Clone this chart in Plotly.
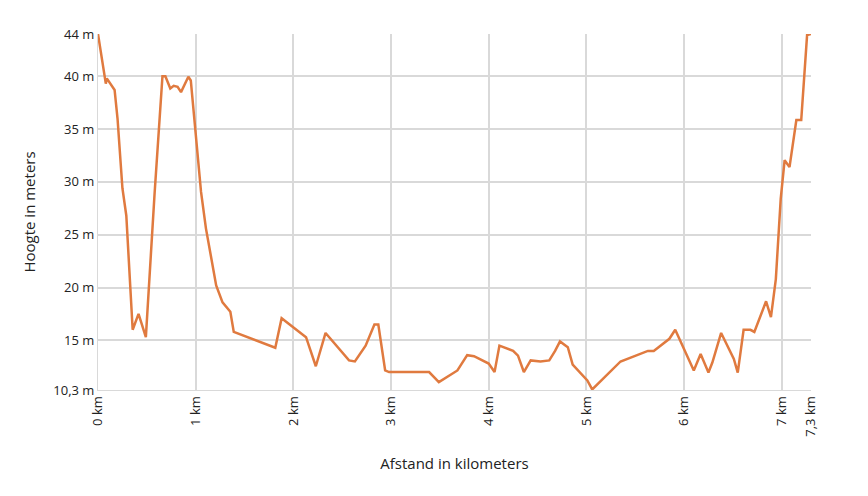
import plotly.graph_objects as go

dist_km = [0, 0.065, 0.08, 0.09, 0.17, 0.2, 0.25, 0.29, 0.355, 0.415, 0.49, 0.58, 0.63, 0.66, 0.69, 0.74, 0.775, 0.815, 0.85, 0.925, 0.95,
           1.055, 1.105, 1.21, 1.275, 1.355, 1.39, 1.815, 1.88, 2.13, 2.23, 2.33, 2.57, 2.63, 2.74, 2.83, 2.87, 2.94, 2.98, 3.39, 3.49,
           3.68, 3.78, 3.85, 4.0, 4.06, 4.11, 4.21, 4.25, 4.30, 4.36, 4.43, 4.53, 4.62, 4.68, 4.73, 4.81, 4.86, 5.01, 5.06,
           5.35, 5.63, 5.69, 5.85, 5.91, 6.10, 6.17, 6.25, 6.29, 6.38, 6.51, 6.55, 6.61, 6.68, 6.72, 6.84, 6.89, 6.94, 6.99,
           7.03, 7.08, 7.15, 7.20, 7.26, 7.3]
height_m = [44, 39.8, 39.3, 39.8, 38.7, 36.0, 29.4, 26.8, 16.0, 17.5, 15.3, 29.0, 36.0, 40.0, 40.0, 38.85, 39.1, 39.0, 38.5, 39.95, 39.6,
            29.05, 25.6, 20.2, 18.6, 17.7, 15.8, 14.3, 17.1, 15.3, 12.55, 15.7, 13.1, 13.0, 14.5, 16.5, 16.5, 12.15, 12.0, 12.0, 11.05,
            12.15, 13.6, 13.5, 12.8, 12.0, 14.5, 14.1, 14.0, 13.55, 12.0, 13.1, 13.0, 13.1, 14.0, 14.9, 14.35, 12.7, 11.2, 10.35,
            13.0, 14.0, 14.0, 15.15, 16.0, 12.15, 13.7, 11.95, 12.9, 15.7, 13.25, 11.95, 16.0, 16.0, 15.8, 18.7, 17.2, 20.8, 28.4,
            32.05, 31.4, 35.85, 35.85, 43.9, 44]

x_tickvals = [0, 1, 2, 3, 4, 5, 6, 7, 7.3]
x_ticktext = ["0 km", "1 km", "2 km", "3 km", "4 km", "5 km", "6 km", "7 km", "7,3 km"]
y_tickvals = [10.3, 15, 20, 25, 30, 35, 40, 44]
y_ticktext = ["10,3 m", "15 m", "20 m", "25 m", "30 m", "35 m", "40 m", "44 m"]

fig = go.Figure(go.Scatter(x=dist_km, y=height_m, mode="lines",
                           line=dict(color="#E07A3F", width=2.5), hoverinfo="skip"))
fig.update_layout(
    width=868, height=496, margin=dict(l=90, r=65, t=26, b=114),
    plot_bgcolor="white", paper_bgcolor="white", showlegend=False,
    font=dict(family="Open Sans", size=13, color="#222"),
)
fig.update_xaxes(range=[0, 7.3], tickvals=x_tickvals, ticktext=x_ticktext, tickangle=-90,
                 showgrid=True, gridcolor="#d9d9d9", gridwidth=1.5, zeroline=False,
                 showline=True, linecolor="#d9d9d9",
                 title=dict(text="Afstand in kilometers", font=dict(size=15), standoff=22))
fig.update_yaxes(range=[10.3, 44], tickvals=y_tickvals, ticktext=y_ticktext,
                 showgrid=True, gridcolor="#d9d9d9", gridwidth=1.5, zeroline=False,
                 showline=True, linecolor="#d9d9d9",
                 title=dict(text="Hoogte in meters", font=dict(size=15), standoff=14))
fig.write_html("out.html")
